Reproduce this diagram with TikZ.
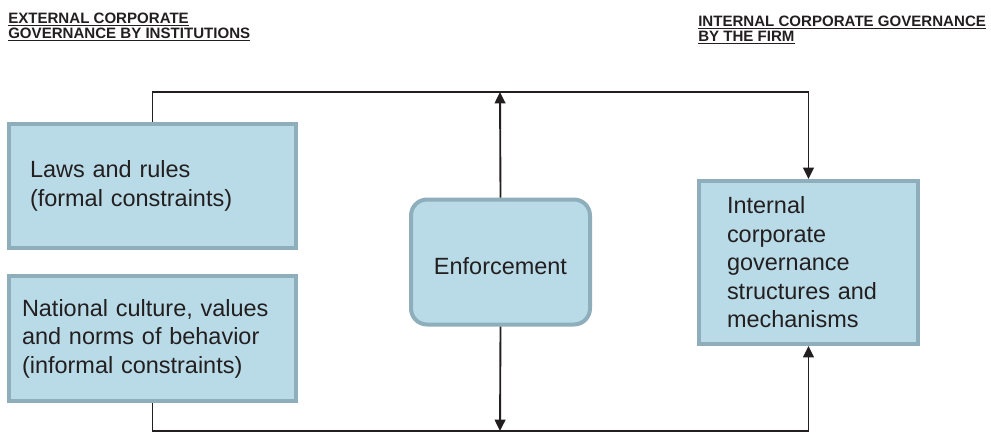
\documentclass[tikz,border=0pt]{standalone}
\usepackage{fontspec}
\setmainfont{Liberation Sans}
\usetikzlibrary{arrows.meta}
\definecolor{boxfill}{HTML}{B9DBE7}
\definecolor{boxedge}{HTML}{8FAEBB}
\definecolor{ink}{HTML}{231F20}
% underline a single header line with a firm rule
\newcommand\hdrul[1]{\setbox0\hbox{#1}\rlap{\rule[-1.9pt]{\wd0}{1.3pt}}\box0}
\begin{document}
\begin{tikzpicture}[x=0.75pt,y=-0.75pt,
  box/.style={draw=boxedge,line width=3pt,fill=boxfill,text=ink,
    font={\fontsize{17.6pt}{21.4pt}\selectfont},inner ysep=0pt},
  header/.style={text=ink,inner sep=0pt,align=left,anchor=north west,
    font={\fontsize{11.3pt}{11.25pt}\selectfont\bfseries}},
  conn/.style={draw=ink,line width=1.4pt},
  tip/.style={-{Triangle[length=8.5pt,width=8pt]}}]
\useasboundingbox (0,0) rectangle (991,432);

% headers
\node[header] (hext) at (8,13) {\hdrul{EXTERNAL CORPORATE}\\\hdrul{GOVERNANCE BY INSTITUTIONS}};
\node[header] (hint) at (698,16) {\hdrul{INTERNAL CORPORATE GOVERNANCE}\\\hdrul{BY THE FIRM}};

% institutional boxes
\node[box,minimum width=215.25pt,minimum height=93pt,inner xsep=15.75pt,
  text width=183.75pt,align=left] (laws) at (152.5,186)
  {Laws and rules\\(formal constraints)};
\node[box,minimum width=215.25pt,minimum height=93.75pt,inner xsep=9.75pt,
  text width=195.75pt,align=left] (culture) at (152.5,338.5)
  {National culture, values\\and norms of behavior\\(informal constraints)};

% enforcement
\node[box,rounded corners=12pt,minimum width=134.25pt,minimum height=93.75pt,
  align=center] (enf) at (500.5,262) {\raisebox{-3pt}[\height][0pt]{Enforcement}};

% firm-level box
\node[box,minimum width=164.25pt,minimum height=122.25pt,inner xsep=21pt,
  text width=122.25pt,align=left] (internal) at (808.5,262.5)
  {Internal\\corporate\\governance\\structures and\\mechanisms};

% connectors
\coordinate (ttop) at (500,92);
\coordinate (tbot) at (500,431);
\draw[conn,tip] (laws.north) |- (ttop) -| (internal.north);
\draw[conn,tip] (culture.south) |- (tbot) -| (internal.south);
\draw[conn,tip] (enf.north) -- (ttop);
\draw[conn,tip] (enf.south) -- (tbot);
\end{tikzpicture}
\end{document}
